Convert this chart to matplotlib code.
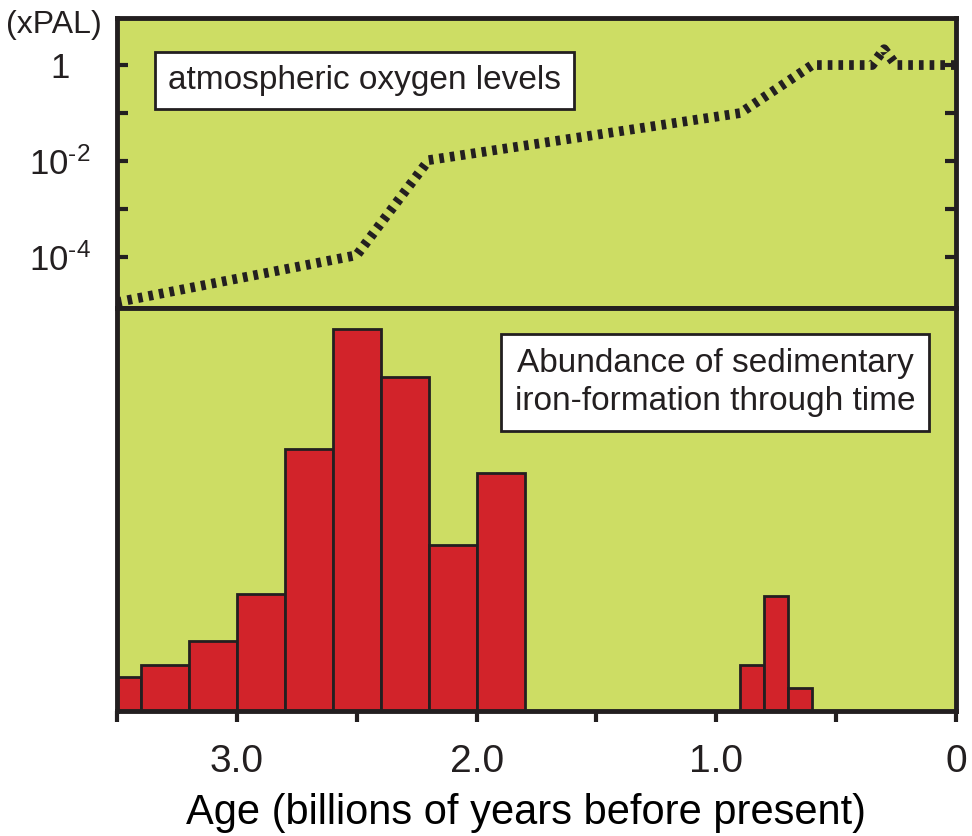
#!/usr/bin/env python3
import numpy as np
import matplotlib
matplotlib.use('Agg')
import matplotlib.pyplot as plt
from matplotlib.ticker import FixedLocator, NullFormatter

# Atmospheric oxygen curve (age in Ga, log10 pO2 in PAL)
o2_age = [3.5, 2.5, 2.2, 0.9, 0.6, 0.35, 0.3, 0.25, 0.0]
o2_log = [-4.94, -3.96, -1.98, -1.0, 0.0, 0.0, 0.33, 0.0, 0.0]

# Iron-formation histogram bins (older edge, younger edge) and abundance
bin_old = [3.5, 3.4, 3.2, 3.0, 2.8, 2.6, 2.4, 2.2, 2.0, 0.9, 0.8, 0.7]
bin_young = [3.4, 3.2, 3.0, 2.8, 2.6, 2.4, 2.2, 2.0, 1.8, 0.8, 0.7, 0.6]
abundance = [34, 46, 70, 117, 262, 382, 334, 166, 238, 46, 115, 23]

xtick_vals = [3.0, 2.0, 1.0, 0.0]
xtick_labels = ['3.0', '2.0', '1.0', '0']
ytick_vals = [1, 1e-2, 1e-4]
ytick_labels = ['1', r'$10^{\text{-}2}$', r'$10^{\text{-}4}$']

bg = '#cddd64'
red = '#d2232a'
dark = '#231f20'

plt.rcParams['font.family'] = ['Liberation Sans', 'DejaVu Sans']
plt.rcParams['mathtext.fontset'] = 'custom'
plt.rcParams['mathtext.rm'] = 'Liberation Sans'
plt.rcParams['mathtext.it'] = 'Liberation Sans:italic'
plt.rcParams['text.color'] = dark
plt.rcParams['xtick.color'] = dark
plt.rcParams['ytick.color'] = dark

fig = plt.figure(figsize=(9.72, 8.36), dpi=100)
W, H = 972, 836
left, right = 117 / W, 956 / W
ax1 = fig.add_axes([left, 1 - 308 / H, right - left, (308 - 18) / H])
ax2 = fig.add_axes([left, 1 - 711 / H, right - left, (711 - 308) / H])

for ax in (ax1, ax2):
    ax.set_facecolor(bg)
    ax.set_xlim(3.5, 0)
    for sp in ax.spines.values():
        sp.set_linewidth(3.5)
        sp.set_color(dark)

# top panel: oxygen levels
ax1.plot(o2_age, 10.0 ** np.array(o2_log), color=dark, lw=7,
         dashes=(0.48, 0.62), solid_capstyle='butt', dash_capstyle='butt')
ax1.set_yscale('log')
ax1.set_ylim(10 ** -5.06, 10 ** 0.98)
ax1.set_xticks([])
ax1.yaxis.set_major_locator(FixedLocator(ytick_vals))
ax1.set_yticklabels(ytick_labels)
ax1.yaxis.set_minor_locator(FixedLocator([1e-1, 1e-3]))
ax1.yaxis.set_minor_formatter(NullFormatter())
ax1.tick_params(axis='y', which='both', direction='in', left=True, right=True,
                length=8, width=3, labelsize=25, pad=41)
for lab in ax1.get_yticklabels():
    lab.set_horizontalalignment('center')

ax1.text(0.295, 0.785, 'atmospheric oxygen levels', transform=ax1.transAxes,
         fontsize=24, ha='center', va='center',
         bbox=dict(boxstyle='square,pad=0.4', fc='white', ec=dark, lw=2))
fig.text(54 / W, 1 - 25 / H, '(xPAL)', fontsize=23, ha='center', va='center')

# bottom panel: iron-formation abundance
widths = np.array(bin_old) - np.array(bin_young)
ax2.bar(bin_young, abundance, width=widths, align='edge', color=red,
        edgecolor=dark, linewidth=2)
ax2.set_ylim(0, 403)
ax2.set_yticks([])
ax2.set_xticks(xtick_vals)
ax2.set_xticklabels(xtick_labels)
ax2.xaxis.set_minor_locator(FixedLocator([3.5, 2.5, 1.5, 0.5]))
ax2.tick_params(axis='x', which='both', direction='out', length=8, width=3,
                labelsize=28, pad=16)
ax2.set_xlabel('Age (billions of years before present)', fontsize=30,
               labelpad=9, x=0.4875)

ax2.text(0.713, 0.815, 'Abundance of sedimentary\niron-formation through time',
         transform=ax2.transAxes, fontsize=24, ha='center', va='center',
         linespacing=1.3,
         bbox=dict(boxstyle='square,pad=0.42', fc='white', ec=dark, lw=2))

fig.savefig('out.png', dpi=100)
